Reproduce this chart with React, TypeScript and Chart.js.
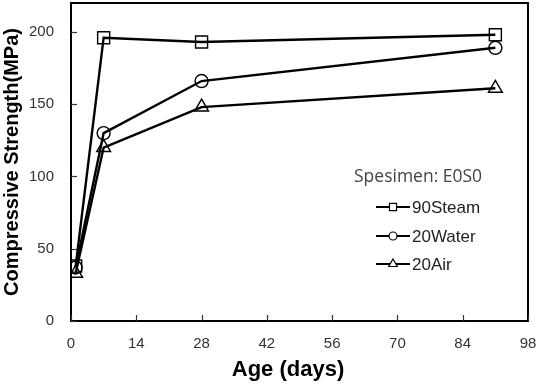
import React, { useEffect, useRef } from "react";
import { Chart, registerables } from "chart.js";

Chart.register(...registerables);

const days = [1, 7, 28, 91];
const steam90 = [38, 196, 193, 198];
const water20 = [37, 130, 166, 189];
const air20 = [33, 120, 148, 161];
const seriesNames = ["90Steam", "20Water", "20Air"];
const seriesStyles = ["rect", "circle", "triangle"];
const xTickValues = [0, 14, 28, 42, 56, 70, 84, 98];
const yTickValues = [0, 50, 100, 150, 200];
const legendTitle = "Spesimen: E0S0";
const xTitle = "Age (days)";
const yTitle = "Compressive Strength(MPa)";

function drawMarker(ctx: CanvasRenderingContext2D, style: string, x: number, y: number, r: number) {
  ctx.beginPath();
  if (style === "rect") {
    const s = Math.SQRT1_2 * r;
    ctx.rect(x - s, y - s, 2 * s, 2 * s);
  } else if (style === "circle") {
    ctx.arc(x, y, r, 0, Math.PI * 2);
  } else {
    for (let i = 0; i < 3; i++) {
      const a = (i * 2 * Math.PI) / 3;
      const px = x + Math.sin(a) * r;
      const py = y - Math.cos(a) * r;
      if (i === 0) ctx.moveTo(px, py);
      else ctx.lineTo(px, py);
    }
    ctx.closePath();
  }
  ctx.fillStyle = "#fff";
  ctx.fill();
  ctx.stroke();
}

const decorPlugin = {
  id: "decor",
  afterDraw(chart: any) {
    const { ctx, chartArea, scales } = chart;
    const xs = scales.x;
    const ys = scales.y;
    ctx.save();
    ctx.strokeStyle = "#000";
    ctx.lineWidth = 2;
    ctx.strokeRect(chartArea.left, chartArea.top, chartArea.right - chartArea.left, chartArea.bottom - chartArea.top);
    ctx.lineWidth = 1.2;
    ctx.strokeStyle = "#333";
    xTickValues.forEach((v) => {
      const px = Math.round(xs.getPixelForValue(v)) + 0.5;
      ctx.beginPath();
      ctx.moveTo(px, chartArea.bottom);
      ctx.lineTo(px, chartArea.bottom - 6);
      ctx.stroke();
    });
    yTickValues.forEach((v) => {
      const py = Math.round(ys.getPixelForValue(v)) + 0.5;
      ctx.beginPath();
      ctx.moveTo(chartArea.left, py);
      ctx.lineTo(chartArea.left + 6, py);
      ctx.stroke();
    });
    // x title
    ctx.fillStyle = "#000";
    ctx.font = "bold 22px 'Liberation Sans', Arial, sans-serif";
    ctx.textAlign = "center";
    ctx.textBaseline = "middle";
    ctx.fillText(xTitle, 288, 370);
    // legend
    ctx.font = "17.5px 'Open Sans', 'Noto Sans', sans-serif";
    ctx.fillStyle = "#444";
    ctx.textAlign = "left";
    ctx.fillText(legendTitle, 354, 177);
    const rows = [207, 236, 264];
    seriesNames.forEach((name, i) => {
      const y = rows[i];
      ctx.strokeStyle = "#000";
      ctx.lineWidth = 2.2;
      ctx.beginPath();
      ctx.moveTo(376, y);
      ctx.lineTo(410, y);
      ctx.stroke();
      ctx.lineWidth = 1.2;
      drawMarker(ctx, seriesStyles[i], 393, y, i === 0 ? 5 : i === 1 ? 4 : 5);
      ctx.fillStyle = "#222";
      ctx.font = "17px 'Liberation Sans', Arial, sans-serif";
      ctx.fillText(name, 412, y + 1);
    });
    ctx.restore();
  },
};

const zeroPad = (s: any) => {
  s.paddingTop = 0;
  s.paddingBottom = 0;
  s.paddingLeft = 0;
  s.paddingRight = 0;
};

export default function App() {
  const ref = useRef<HTMLCanvasElement | null>(null);
  useEffect(() => {
    document.body.style.margin = "0";
    if (!ref.current) return;
    const mk = (label: string, data: number[], style: string, r: number) => ({
      label,
      data: days.map((d, i) => ({ x: d, y: data[i] })),
      borderColor: "#000",
      borderWidth: 2.4,
      backgroundColor: "rgba(0,0,0,0)",
      pointStyle: style,
      pointRadius: r,
      pointBorderWidth: 1.4,
      pointBorderColor: "#000",
      pointBackgroundColor: "rgba(0,0,0,0)",
      tension: 0,
      fill: false,
    });
    const chart = new Chart(ref.current, {
      type: "line",
      data: {
        datasets: [
          mk(seriesNames[0], steam90, "rect", 8.5),
          mk(seriesNames[1], water20, "circle", 6.5),
          mk(seriesNames[2], air20, "triangle", 8),
        ],
      },
      options: {
        animation: false,
        responsive: false,
        layout: { autoPadding: false, padding: { left: 0, top: 3, right: 17, bottom: 0 } },
        plugins: { legend: { display: false }, tooltip: { enabled: false } },
        scales: {
          x: {
            type: "linear",
            min: 0,
            max: 98,
            afterBuildTicks: (s: any) => {
              s.ticks = xTickValues.map((v) => ({ value: v }));
            },
            afterFit: (s: any) => {
              s.height = 69;
              zeroPad(s);
            },
            grid: { display: false, drawTicks: false },
            border: { display: false },
            ticks: {
              padding: 14,
              color: "#333",
              font: { family: "'Liberation Sans', Arial, sans-serif", size: 15 },
            },
          },
          y: {
            type: "linear",
            min: 0,
            max: 220,
            afterBuildTicks: (s: any) => {
              s.ticks = yTickValues.map((v) => ({ value: v }));
            },
            afterFit: (s: any) => {
              s.width = 71;
              zeroPad(s);
            },
            grid: { display: false, drawTicks: false },
            border: { display: false },
            ticks: {
              padding: 17,
              color: "#333",
              font: { family: "'Liberation Sans', Arial, sans-serif", size: 15 },
            },
            title: {
              display: true,
              text: yTitle,
              color: "#000",
              padding: { top: 0, bottom: 0 },
              font: { family: "'Liberation Sans', Arial, sans-serif", size: 20, weight: "bold" },
            },
          },
        },
      },
      plugins: [decorPlugin],
    } as any);
    return () => chart.destroy();
  }, []);
  return (
    <div style={{ position: "absolute", left: 0, top: 0, width: 545, height: 390, background: "#fff" }}>
      <canvas ref={ref} width={545} height={390} />
    </div>
  );
}
